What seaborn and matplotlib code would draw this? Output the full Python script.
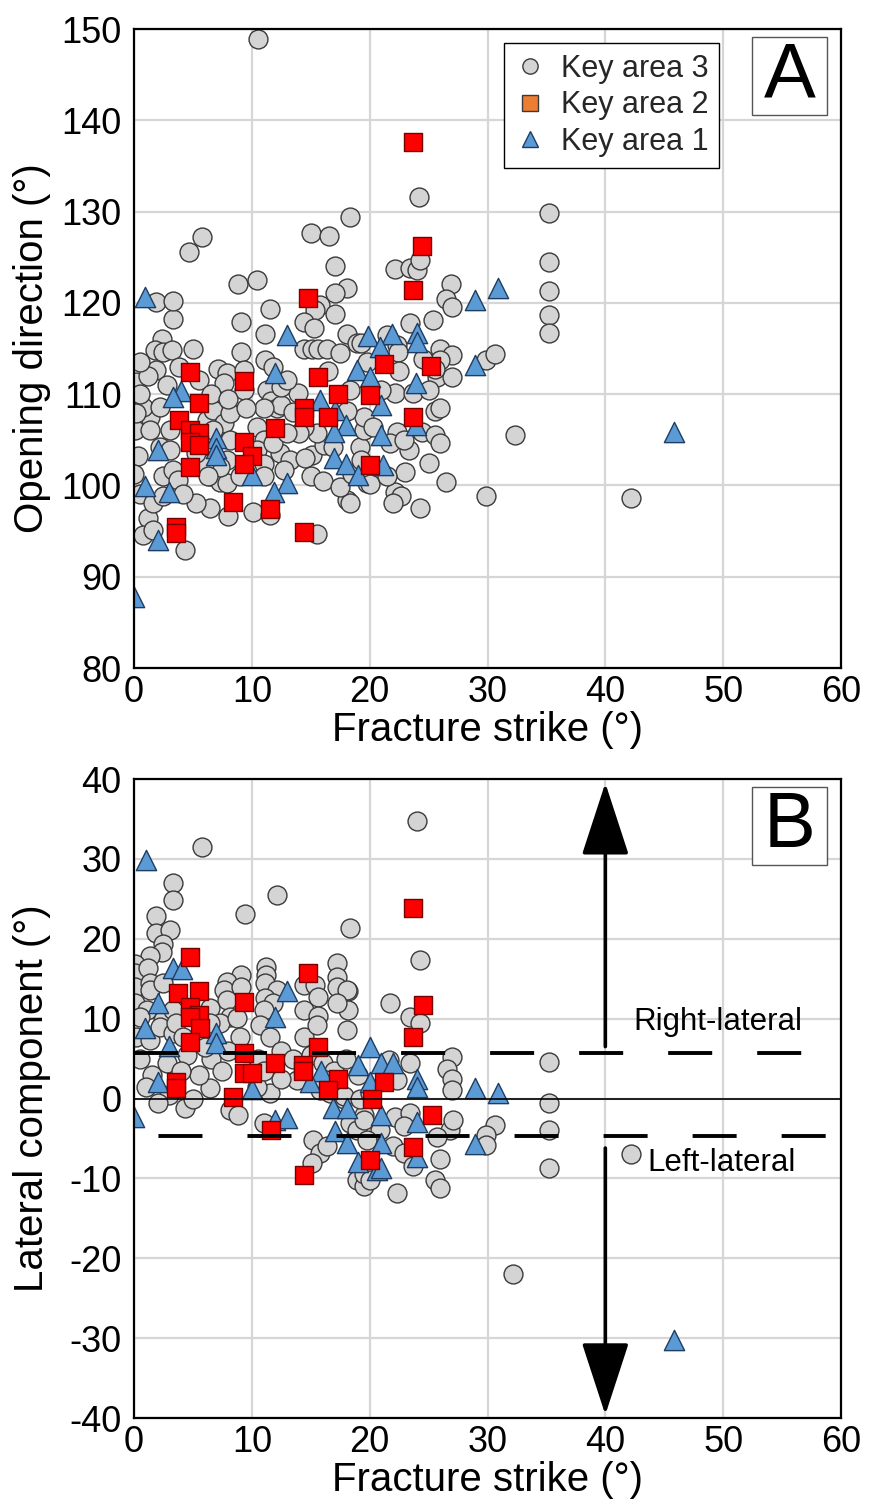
import matplotlib
matplotlib.use("Agg")
import matplotlib.pyplot as plt
from matplotlib.lines import Line2D
from matplotlib.patches import Rectangle
import seaborn as sns

# ---------------- data ----------------
# Panel A: fracture strike (deg) vs opening direction (deg)
a3_strike = [10.55, 18.3, 15.0, 16.55, 5.77, 4.7, 17.1, 8.85, 10.4, 18.05, 17.1, 1.87, 11.5, 15.8, 15.4,
             17.1, 9.1, 14.4, 15.3, 18.05, 11.1, 2.35, 18.9, 1.8, 2.5, 3.2, 5.0, 9.1, 14.4, 15.1, 15.65,
             16.4, 19.3, 1.9, 0.2, 7.1, 7.9, 7.6, 9.3, 9.3, 11.1, 11.8, 11.3, 11.6, 12.1, 12.5, 11.0,
             13.95, 15.1, 16.1, 15.5, 14.4, 14.0, 18.05, 18.3, 15.5, 19.2, 19.5, 19.5, 18.05, 16.9, 20.0,
             19.75, 10.1, 11.5, 8.0, 4.3, 1.2, 0.8, 1.6, 6.45, 5.3, 6.45, 7.3, 7.9, 0.08, 0.37, 0.0, 0.5,
             1.6, 2.5, 3.3, 1.36, 0.8, 2.2, 3.05, 3.76, 4.2, 2.5, 2.2, 1.36, 3.05, 0.2, 6.2, 6.7, 7.6,
             8.15, 8.15, 7.9, 7.3, 5.9, 5.3, 6.7, 6.3, 10.4, 11.0, 10.4, 11.0, 12.4, 11.8, 13.0, 13.25,
             12.7, 11.0, 9.0, 24.2, 35.2, 35.2, 22.15, 23.4, 24.0, 24.3, 35.2, 26.9, 26.5, 27.0, 35.2,
             35.2, 25.4, 23.4, 21.45, 22.3, 22.4, 26.0, 27.0, 26.0, 29.9, 30.6, 25.7, 27.0, 25.55, 22.15,
             23.7, 25.55, 26.0, 32.3, 24.4, 25.55, 26.0, 20.3, 22.3, 21.7, 23.3, 22.9, 20.0, 26.5, 22.15,
             22.7, 22.0, 24.3, 29.9, 42.2, 0.5, 1.2, 2.8, 3.8, 5.5, 6.5, 8.0, 9.5, 0.5, 3.3, 3.3, 12.5,
             13.5, 14.5, 15.0, 16.0, 17.5, 18.5, 19.3, 13.0, 16.5, 17.5, 18.3, 19.8, 21.0, 22.5, 24.5,
             25.0, 23.0, 21.5, 25.0]
a3_opening = [148.9, 129.4, 127.6, 127.3, 127.2, 125.6, 124.0, 122.1, 122.5, 121.6, 121.1, 120.1, 119.3,
              119.8, 119.2, 118.8, 117.9, 117.9, 117.3, 116.6, 116.6, 116.0, 115.6, 114.8, 114.6, 114.8,
              115.0, 114.6, 115.0, 114.9, 115.0, 114.9, 115.6, 112.65, 111.3, 112.8, 112.3, 111.2, 112.6,
              110.5, 113.7, 113.0, 110.5, 109.2, 108.5, 108.8, 108.5, 110.1, 103.3, 104.4, 105.7, 106.4,
              105.7, 98.4, 98.05, 94.65, 104.25, 106.1, 107.5, 108.1, 104.25, 101.0, 100.25, 97.1, 96.8,
              96.6, 92.9, 96.4, 94.6, 95.1, 97.5, 98.05, 101.0, 100.4, 100.3, 106.1, 103.2, 101.3, 99.1,
              98.05, 101.0, 101.7, 107.5, 108.6, 108.6, 106.1, 100.6, 99.1, 98.8, 104.25, 106.1, 103.9,
              107.9, 107.2, 108.3, 106.8, 107.9, 105.0, 102.8, 102.05, 102.4, 103.5, 106.1, 101.0, 106.4,
              105.0, 103.9, 102.4, 103.5, 104.6, 105.7, 102.8, 101.7, 101.0, 101.0, 131.6, 129.8, 124.5,
              123.7, 123.8, 123.6, 124.7, 121.3, 122.1, 120.4, 119.5, 118.7, 116.7, 118.1, 117.8, 116.5,
              115.4, 114.65, 115.0, 114.3, 113.75, 113.75, 114.4, 111.9, 111.9, 112.8, 110.1, 110.1, 108.1,
              108.5, 105.5, 105.9, 105.5, 104.6, 106.4, 105.9, 104.6, 103.9, 105.0, 100.2, 100.4, 99.3,
              98.8, 98.05, 97.5, 98.8, 98.6, 110.0, 112.0, 111.0, 113.0, 111.5, 110.0, 109.5, 108.5, 113.5,
              118.2, 120.2, 110.8, 108.0, 103.0, 101.0, 100.5, 99.8, 101.3, 102.8, 111.5, 112.5, 114.5,
              110.5, 113.5, 110.5, 112.5, 113.8, 110.5, 101.5, 101.0, 102.5]

a2_strike = [23.65, 24.4, 23.65, 14.75, 4.75, 9.3, 15.65, 21.2, 25.2, 17.35, 20.0, 5.5, 14.4, 14.4, 16.45,
             23.65, 3.8, 12.0, 4.75, 5.5, 4.75, 5.55, 9.3, 10.0, 9.3, 4.75, 20.0, 8.4, 11.5, 3.55, 3.55, 14.4]
a2_opening = [137.6, 126.2, 121.4, 120.5, 112.4, 111.4, 111.9, 113.3, 113.1, 110.0, 109.9, 109.0, 108.5,
              107.5, 107.5, 107.5, 107.2, 106.3, 106.1, 105.7, 104.8, 104.4, 104.8, 103.2, 102.3, 102.05,
              102.2, 98.2, 97.4, 95.5, 94.8, 94.9]

a1_strike = [0.93, 12.96, 19.9, 21.9, 24.0, 24.0, 20.9, 12.0, 18.9, 20.0, 23.9, 4.0, 3.3, 15.8, 20.95, 17.1,
             18.0, 23.9, 17.0, 20.95, 7.0, 7.0, 7.0, 2.0, 17.0, 18.0, 21.1, 19.0, 10.0, 13.0, 0.93, 11.9,
             3.0, 2.0, 0.0, 30.9, 28.95, 28.95, 45.8]
a1_opening = [120.6, 116.5, 116.4, 116.6, 116.7, 115.7, 115.2, 112.3, 112.65, 111.9, 111.2, 110.3, 109.7,
              109.4, 108.8, 108.3, 106.6, 106.6, 105.9, 105.5, 105.2, 104.1, 103.3, 103.9, 103.0, 102.4,
              102.2, 101.1, 101.1, 100.25, 99.9, 99.3, 99.3, 94.0, 87.8, 121.6, 120.3, 113.2, 105.8]

# Panel B: fracture strike (deg) vs lateral component (deg)
b3_strike = [5.8, 3.3, 3.3, 12.1, 9.4, 1.9, 1.9, 3.05, 2.5, 18.3, 2.35, 1.36, 0.08, 0.08, 1.2, 0.08, 1.36,
             17.2, 17.2, 17.2, 18.2, 11.2, 11.2, 9.1, 7.9, 7.6, 14.4, 15.4, 15.65, 14.4, 15.65, 9.1, 11.1,
             12.1, 11.1, 11.8, 11.0, 7.9, 6.45, 8.15, 7.3, 8.7, 6.45, 18.05, 18.2, 18.05, 17.2, 14.4, 15.5,
             10.7, 11.5, 9.0, 0.08, 1.1, 2.5, 0.2, 1.36, 2.2, 0.5, 3.3, 1.36, 2.5, 3.3, 3.6, 4.2,
             4.3, 5.0, 8.15, 8.85, 6.45, 11.0, 11.5, 10.4, 13.8, 15.2, 15.8, 15.1, 16.4, 18.9, 19.5, 18.3,
             18.9, 19.5, 17.8, 15.8, 16.6, 17.8, 19.2, 20.0, 24.0, 24.3, 21.7, 23.4, 24.3, 27.0, 26.6, 27.0,
             27.0, 23.4, 35.2, 22.3, 21.6, 35.2, 35.2, 35.2, 30.6, 29.9, 29.9, 26.0, 25.55, 26.0, 22.3,
             22.15, 23.4, 22.9, 22.0, 22.9, 23.7, 26.8, 27.1, 25.7, 20.9, 19.5, 19.75, 19.5, 20.0, 32.2,
             42.2, 0.5, 1.5, 2.8, 4.5, 5.5, 6.5, 7.5, 8.0, 6.0, 4.0, 1.0, 3.0, 2.0, 10.5, 12.5, 13.5, 15.0,
             16.0, 17.0, 18.0, 19.0, 16.0, 12.5, 11.0]
b3_lateral = [31.45, 26.95, 24.85, 25.5, 23.1, 22.8, 20.7, 21.1, 19.4, 21.3, 18.4, 17.8, 16.9, 15.7, 16.3,
              14.0, 14.4, 17.0, 15.25, 14.0, 13.5, 16.5, 15.5, 15.5, 14.6, 13.6, 14.2, 14.2, 12.75, 11.1,
              10.3, 14.0, 14.4, 13.6, 12.55, 11.9, 11.1, 12.35, 11.3, 10.25, 9.4, 10.05, 9.4, 13.6, 11.1,
              8.6, 11.9, 7.75, 9.2, 9.2, 7.75, 7.75, 11.9, 11.1, 9.8, 7.75, 7.3, 9.0, 10.25, 8.2, 13.6,
              14.4, 11.1, 9.4, 7.75, -1.2, -0.1, -1.4, -2.05, 1.3, -3.1, 0.7, 1.5, 2.3, -5.2, -6.85, -8.1,
              -6.0, -10.2, -11.0, -3.1, -3.9, -2.05, -0.1, 1.1, 0.7, 0.3, -0.1, 0.7, 34.8, 17.35, 12.0,
              10.25, 9.4, 5.25, 3.7, 2.5, 1.1, 4.4, 4.6, 2.3, 4.8, -0.6, -3.9, -8.7, -3.3, -4.6, -5.8, -7.6,
              -10.2, -11.2, -11.85, -2.3, -1.85, -3.5, -6.0, -6.85, -8.5, -3.9, -2.7, -4.8, -3.9, -2.7,
              -5.2, -9.4, -10.2, -22.0, -6.9, 5.0, 3.0, 4.5, 5.5, 3.0, 5.0, 3.5, 6.0, 6.5, 3.5, 1.5, 0.5,
              -0.5, 5.0, 6.0, 5.0, 5.5, 4.5, 3.5, 5.0, 3.0, 2.5, 2.5, 3.5]

b2_strike = [23.65, 24.5, 23.65, 4.75, 14.8, 3.76, 5.55, 9.3, 4.75, 5.5, 4.75, 5.6, 4.75, 9.3, 15.65, 12.0,
             14.3, 14.3, 9.3, 10.0, 3.6, 3.6, 8.4, 17.35, 16.5, 21.25, 20.2, 25.3, 23.65, 20.0, 11.6, 14.4]
b2_lateral = [23.9, 11.7, 7.75, 17.7, 15.7, 13.25, 13.4, 12.1, 11.5, 10.45, 10.25, 8.8, 7.1, 5.7, 6.5, 4.4,
              4.2, 3.4, 3.2, 3.2, 2.1, 1.3, 0.25, 2.5, 1.1, 2.1, -0.1, -2.05, -6.1, -7.7, -4.0, -9.6]

b1_strike = [1.0, 3.3, 4.05, 2.0, 13.0, 12.0, 7.0, 7.0, 0.93, 3.0, 20.0, 2.0, 10.0, 19.0, 20.0, 15.9, 14.9,
             0.0, 12.0, 13.0, 17.1, 18.05, 16.9, 18.05, 19.0, 20.6, 21.0, 21.95, 24.0, 24.0, 28.95, 30.9,
             20.95, 24.0, 20.95, 24.0, 20.95, 28.95, 45.8]
b1_lateral = [29.8, 16.4, 16.2, 11.9, 13.5, 10.25, 8.2, 6.9, 8.8, 6.6, 6.5, 2.1, 1.2, 4.2, 2.1, 3.4, 2.1,
              -2.3, -2.7, -2.5, -4.1, -5.6, -1.2, -1.2, -8.0, -9.0, 4.4, 4.4, 2.5, 1.5, 1.3, 0.7, -2.05,
              -2.9, -5.6, -7.3, -8.7, -5.7, -30.2]

series_names = ["Key area 3", "Key area 2", "Key area 1"]
x_ticks = [0, 10, 20, 30, 40, 50, 60]
a_ticks = [80, 90, 100, 110, 120, 130, 140, 150]
b_ticks = [-40, -30, -20, -10, 0, 10, 20, 30, 40]
right_lateral_level = 5.75
left_lateral_level = -4.75

# ---------------- style ----------------
sns.set_theme(style="whitegrid")
plt.rcParams["font.family"] = ["Liberation Sans", "DejaVu Sans"]
plt.rcParams["axes.unicode_minus"] = False
plt.rcParams["lines.scale_dashes"] = False

GRAY, RED, BLUE, ORANGE = "#d4d4d4", "#ff0000", "#5b9bd5", "#ed7d31"
MS = 185

fig = plt.figure(figsize=(8.72, 15.06), dpi=100)
ax_a = fig.add_axes([0.15367, 0.55644, 0.81078, 0.42430])
ax_b = fig.add_axes([0.15367, 0.05843, 0.81078, 0.42430])


def draw_points(ax, s3, v3, s2, v2, s1, v1):
    sns.scatterplot(x=s3, y=v3, ax=ax, marker="o", color=GRAY, edgecolor="#3a3a3a",
                    linewidth=1.0, s=MS, zorder=3, legend=False)
    sns.scatterplot(x=s1, y=v1, ax=ax, marker="^", color=BLUE, edgecolor="#1f3d63",
                    linewidth=1.0, s=MS * 1.15, zorder=3, legend=False)
    sns.scatterplot(x=s2, y=v2, ax=ax, marker="s", color=RED, edgecolor="#7a0000",
                    linewidth=1.0, s=MS * 0.95, zorder=3, legend=False)


def style_axes(ax, yticks, ylabel):
    ax.set_xlim(x_ticks[0], x_ticks[-1])
    ax.set_ylim(yticks[0], yticks[-1])
    ax.set_xticks(x_ticks)
    ax.set_yticks(yticks)
    ax.grid(True, color="#d6d6d6", linewidth=1.6)
    ax.set_axisbelow(True)
    for sp in ax.spines.values():
        sp.set_color("black")
        sp.set_linewidth(1.6)
        sp.set_zorder(6)
    ax.tick_params(axis="both", length=0, labelsize=26, colors="black")
    ax.tick_params(axis="x", pad=5)
    ax.tick_params(axis="y", pad=9)
    ax.set_xlabel("Fracture strike (°)", fontsize=29, color="black")
    ax.set_ylabel(ylabel, fontsize=29, color="black")
    ax.xaxis.set_label_coords(0.5, -0.067)
    ax.yaxis.set_label_coords(-0.118, 0.5)


def panel_tag(ax, letter):
    ax.add_patch(Rectangle((0.874, 0.866), 0.106, 0.121, transform=ax.transAxes,
                           facecolor="white", edgecolor="#555555", linewidth=1.0, zorder=7))
    ax.text(0.927, 0.925, letter, transform=ax.transAxes, ha="center", va="center",
            fontsize=56, color="black", zorder=8)


# ---- Panel A ----
draw_points(ax_a, a3_strike, a3_opening, a2_strike, a2_opening, a1_strike, a1_opening)
style_axes(ax_a, a_ticks, "Opening direction (°)")
panel_tag(ax_a, "A")

handles = [
    Line2D([], [], marker="o", linestyle="none", markersize=11, markerfacecolor=GRAY,
           markeredgecolor="#3a3a3a", markeredgewidth=1.0),
    Line2D([], [], marker="s", linestyle="none", markersize=11, markerfacecolor=ORANGE,
           markeredgecolor="#3a3a3a", markeredgewidth=1.0),
    Line2D([], [], marker="^", linestyle="none", markersize=12, markerfacecolor=BLUE,
           markeredgecolor="#1f3d63", markeredgewidth=1.0),
]
leg = ax_a.legend(handles, series_names, loc="upper left",
                  bbox_to_anchor=(504 / 872, 1 - 43 / 1506), bbox_transform=fig.transFigure,
                  fontsize=22, frameon=True, fancybox=False, framealpha=1, edgecolor="black",
                  handlelength=1.0, handletextpad=0.5, labelspacing=0.22, borderpad=0.35,
                  borderaxespad=0)
leg.get_frame().set_linewidth(1.0)
leg.set_zorder(9)

# ---- Panel B ----
draw_points(ax_b, b3_strike, b3_lateral, b2_strike, b2_lateral, b1_strike, b1_lateral)
style_axes(ax_b, b_ticks, "Lateral component (°)")
panel_tag(ax_b, "B")

ax_b.axhline(0, color="black", linewidth=1.2, zorder=5)
ax_b.axhline(right_lateral_level, color="black", linewidth=2.8, zorder=5,
             linestyle=(0, (31.7, 32.4)))
ax_b.axhline(left_lateral_level, color="black", linewidth=2.8, zorder=5,
             linestyle=(46.5, (31.7, 32.4)))

arrow_kw = dict(arrowstyle="-|>,head_length=4.6,head_width=1.5", lw=2.6, color="black",
                mutation_scale=10, shrinkA=0, shrinkB=0)
ax_b.annotate("", xy=(40, 39.5), xytext=(40, 6.5), arrowprops=arrow_kw, zorder=6)
ax_b.annotate("", xy=(40, -39.6), xytext=(40, -6.2), arrowprops=arrow_kw, zorder=6)

ax_b.text(42.4, 9.6, "Right-lateral", fontsize=22.5, ha="left", va="center", color="black", zorder=8)
ax_b.text(43.6, -8.1, "Left-lateral", fontsize=22.5, ha="left", va="center", color="black", zorder=8)

fig.savefig("out.png", dpi=100, facecolor="white")
